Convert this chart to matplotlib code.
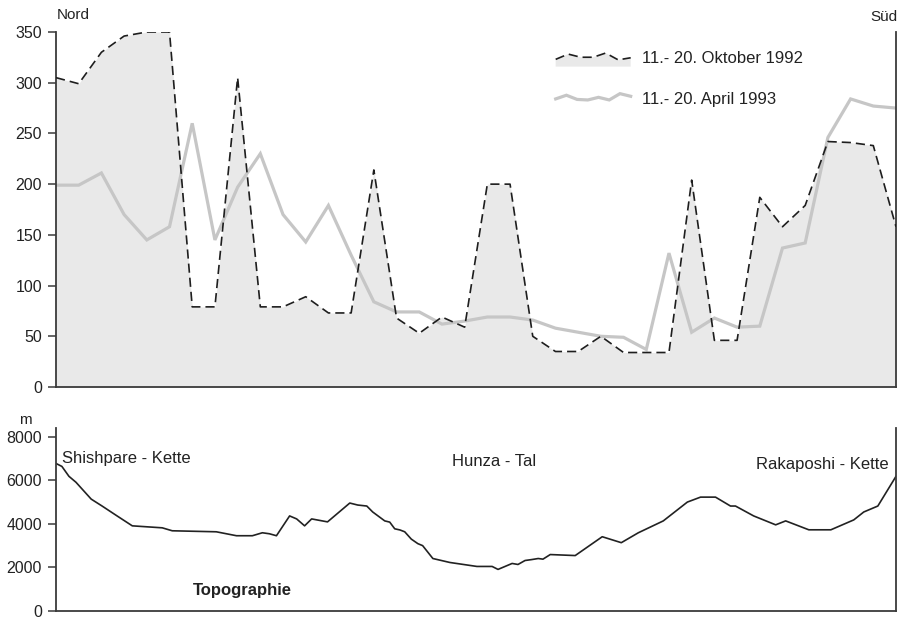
import matplotlib
matplotlib.use("Agg")
import matplotlib.pyplot as plt
from matplotlib.legend_handler import HandlerBase
from matplotlib.lines import Line2D
from matplotlib.patches import Polygon

plt.rcParams['font.family'] = ['Liberation Sans', 'DejaVu Sans']

# ---- data ----
stations = list(range(38))
oktober_1992 = [305, 299, 330, 346, 350, 350, 79, 79, 305, 79,
                79, 89, 73, 73, 214, 68, 53, 69, 59, 200,
                200, 50, 35, 35, 50, 34, 34, 34, 204, 46,
                46, 187, 158, 179, 242, 241, 238, 158]
april_1993 = [199, 199, 211, 170, 145, 158, 260, 145, 197, 230,
              170, 143, 179, 130, 84, 74, 74, 62, 65, 69,
              69, 66, 58, 54, 50, 49, 37, 132, 54, 68,
              59, 60, 137, 142, 246, 284, 277, 275]

topo_pos = [0, 0.26, 0.57, 0.88, 1.55, 2.03, 2.69, 3.36, 4.68, 5.12,
            7.06, 7.95, 8.65, 9.09, 9.40, 9.71, 10.29, 10.60, 10.95, 11.26,
            11.96, 12.94, 13.29, 13.69, 13.95, 14.48, 14.70, 14.92, 15.15, 15.36,
            15.65, 15.94, 16.15, 16.60, 17.35, 18.54, 19.21, 19.47, 20.09, 20.35,
            20.66, 20.95, 21.24, 21.45, 21.77, 22.87, 24.06, 24.90, 25.65, 26.75,
            27.81, 28.39, 29.05, 29.71, 29.93, 30.73, 31.70, 32.14, 33.16, 34.13,
            35.14, 35.58, 36.20, 37.0]
topo_elev = [6773, 6636, 6182, 5909, 5136, 4818, 4364, 3909, 3818, 3682,
             3636, 3455, 3455, 3591, 3545, 3455, 4364, 4227, 3909, 4227,
             4091, 4955, 4864, 4818, 4545, 4136, 4080, 3773, 3720, 3636,
             3300, 3091, 3000, 2409, 2227, 2045, 2045, 1909, 2182, 2136,
             2318, 2360, 2409, 2380, 2591, 2545, 3409, 3136, 3591, 4136,
             5000, 5227, 5227, 4818, 4818, 4364, 3955, 4136, 3727, 3727,
             4182, 4545, 4818, 6182]

top_ticks = [0, 50, 100, 150, 200, 250, 300, 350]
bottom_ticks = [0, 2000, 4000, 6000, 8000]

legend_labels = ['11.- 20. Oktober 1992', '11.- 20. April 1993']

fill_color = '#e9e9e9'
dash_color = '#1e1e1e'
april_color = '#c6c6c6'
spine_color = '#3a3a3a'


class WaveHandler(HandlerBase):
    def __init__(self, pattern, fill=False, **kw):
        super().__init__(**kw)
        self.pattern = pattern
        self.fill = fill

    def create_artists(self, legend, orig_handle, xdescent, ydescent,
                       width, height, fontsize, trans):
        n = len(self.pattern)
        xs = [-xdescent + width * i / (n - 1) for i in range(n)]
        ys = [-ydescent + height * (0.5 + 0.45 * p) for p in self.pattern]
        artists = []
        if self.fill:
            base = -ydescent - height * 0.35
            poly = Polygon(list(zip(xs, ys)) + [(xs[-1], base), (xs[0], base)],
                           closed=True, facecolor=fill_color, edgecolor='none',
                           transform=trans)
            artists.append(poly)
        line = Line2D(xs, ys)
        line.update_from(orig_handle)
        line.set_transform(trans)
        artists.append(line)
        return artists


fig = plt.figure(figsize=(9.01, 6.19), dpi=100)
ax1 = fig.add_axes([56 / 901, 1 - 387 / 619, 840 / 901, 355 / 619])
ax2 = fig.add_axes([56 / 901, 1 - 611 / 619, 840 / 901, 183 / 619])

# top panel
ax1.fill_between(stations, oktober_1992, 0, color=fill_color, lw=0, zorder=1)
l_apr, = ax1.plot(stations, april_1993, color=april_color, lw=2.3,
                  solid_joinstyle='miter', zorder=2)
l_okt, = ax1.plot(stations, oktober_1992, color=dash_color, lw=1.2,
                  dashes=(5.5, 3), zorder=3)
ax1.set_xlim(0, 37)
ax1.set_ylim(0, 350)
ax1.set_yticks(top_ticks)

# bottom panel
ax2.plot(topo_pos, topo_elev, color='#222222', lw=1.2)
ax2.set_xlim(0, 37)
ax2.set_ylim(0, 8400)
ax2.set_yticks(bottom_ticks)

for ax in (ax1, ax2):
    ax.spines['top'].set_visible(False)
    for s in ('left', 'right', 'bottom'):
        ax.spines[s].set_color(spine_color)
        ax.spines[s].set_linewidth(1.3)
    ax.set_xticks([])
    ax.tick_params(axis='y', direction='out', length=6, width=1.1,
                   color=spine_color, pad=4, labelsize=11.5, labelcolor='#222222')
    ax.patch.set_alpha(0)

leg = ax1.legend([l_okt, l_apr], legend_labels,
                 handler_map={l_okt: WaveHandler([-0.5, 0.5, -0.1, -0.1, 0.7, -0.6, -0.2], fill=True),
                              l_apr: WaveHandler([-0.1, 0.6, -0.2, -0.3, 0.2, -0.3, 0.9, 0.4])},
                 loc='upper left', bbox_to_anchor=(0.577, 0.99), frameon=False,
                 fontsize=12, handlelength=4.5, handletextpad=0.7,
                 labelspacing=1.6)
for t in leg.get_texts():
    t.set_color('#222222')

fig.text(57 / 901, 1 - 15 / 619, 'Nord', ha='left', va='center', fontsize=11, color='#222222')
fig.text(897 / 901, 1 - 17 / 619, 'Süd', ha='right', va='center', fontsize=11, color='#222222')
fig.text(25 / 901, 1 - 420 / 619, 'm', ha='center', va='center', fontsize=11, color='#222222')
fig.text(62 / 901, 1 - 459 / 619, 'Shishpare - Kette', ha='left', va='center', fontsize=12, color='#222222')
fig.text(452 / 901, 1 - 462 / 619, 'Hunza - Tal', ha='left', va='center', fontsize=12, color='#222222')
fig.text(889 / 901, 1 - 464 / 619, 'Rakaposhi - Kette', ha='right', va='center', fontsize=12, color='#222222')
fig.text(193 / 901, 1 - 590 / 619, 'Topographie', ha='left', va='center', fontsize=12,
         fontweight='bold', color='#222222')

fig.savefig('out.png', dpi=100)
